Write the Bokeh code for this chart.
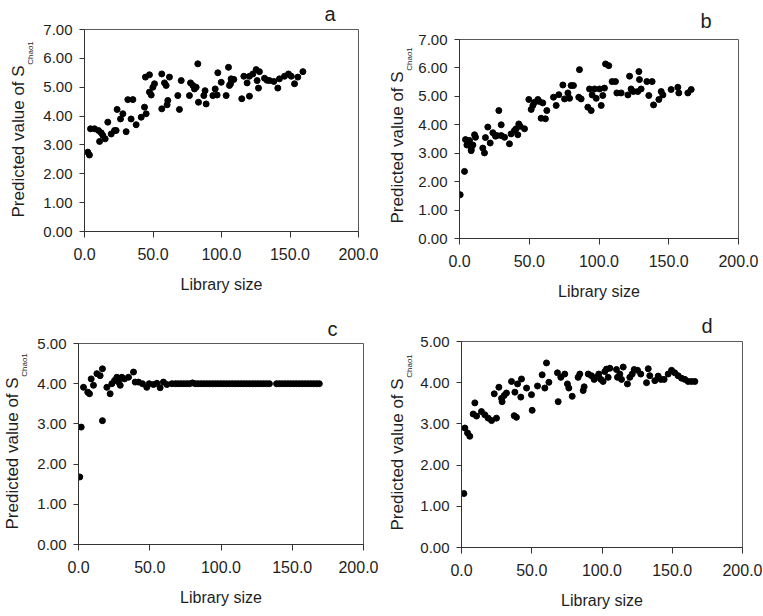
from bokeh.plotting import figure
from bokeh.layouts import column, row
from bokeh.models import FixedTicker, PrintfTickFormatter, Range1d, Title, LinearAxis
from bokeh.embed import file_html
from bokeh.resources import INLINE

# ---------------- data ----------------
x_ticks = [0, 50, 100, 150, 200]
y_ticks_ab = [0, 1, 2, 3, 4, 5, 6, 7]
y_ticks_cd = [0, 1, 2, 3, 4, 5]

a_x = [2.4, 3.6, 4.4, 7.3, 10.2, 12.2, 11.0, 13.4, 15.1, 17.0, 19.5, 21.9, 23.1, 23.8, 26.3,
       28.0, 30.4, 31.6, 35.3, 34.0, 37.7, 41.4, 43.8, 44.5, 45.0, 47.4, 47.4, 48.7, 49.9, 51.1,
       56.4, 56.4, 58.4, 60.3, 60.8, 62.0, 59.6, 69.3, 68.1, 70.6, 76.6, 77.4, 79.1, 80.3, 81.5,
       82.7, 83.2, 88.0, 87.1, 88.8, 93.7, 95.4, 96.8, 97.3, 99.8, 103.4, 105.1, 106.6, 107.0,
       109.0, 105.8, 114.8, 116.3, 118.7, 120.4, 120.4, 122.9, 125.3, 126.0, 127.0, 127.7, 131.4,
       133.2, 135.0, 138.2, 141.1, 142.3, 146.0, 148.9, 150.9, 153.3, 155.7, 159.4]
a_y = [2.75, 2.65, 3.56, 3.56, 3.50, 3.42, 3.12, 3.33, 3.21, 3.79, 3.38, 3.50, 3.50, 4.23, 3.90,
       4.08, 3.46, 4.57, 4.57, 3.90, 3.70, 3.96, 4.31, 5.35, 4.08, 5.43, 4.83, 4.73, 5.00, 5.12,
       5.46, 4.25, 5.15, 4.39, 4.54, 5.35, 5.06, 4.23, 4.71, 5.23, 4.71, 5.15, 5.06, 4.94, 5.00,
       5.81, 4.48, 4.88, 4.71, 4.42, 4.71, 4.94, 4.73, 5.50, 5.17, 4.71, 5.69, 5.12, 5.29,
       5.27, 5.06, 4.60, 5.38, 5.15, 4.69, 5.38, 5.46, 5.61, 5.23, 4.97, 5.54, 5.31,
       5.24, 5.23, 5.20, 4.97, 5.29, 5.38, 5.46, 5.38, 5.12, 5.35, 5.54]

b_x = [0.5, 3.6, 4.3, 5.3, 8.4, 9.6, 10.8, 11.5, 7.2, 8.4, 16.7, 17.9, 18.6, 20.3, 22.0, 23.9,
       25.8, 28.2, 29.9, 26.8, 32.3, 29.9, 35.8, 37.0, 39.4, 40.6, 42.5, 43.5, 41.8, 46.6, 49.7,
       51.4, 52.6, 53.8, 56.2, 57.3, 58.5, 59.7, 61.6, 62.6, 67.4, 69.3, 71.2, 74.1, 75.3, 77.7,
       80.0, 81.7, 78.9, 86.0, 85.5, 87.2, 92.0, 94.4, 93.2, 95.1, 96.8, 98.0, 100.4, 101.6,
       102.7, 103.9, 104.7, 107.0, 109.4, 111.8, 112.8, 115.9, 120.7, 121.9, 123.0, 124.7, 128.6,
       129.0, 127.8, 130.2, 135.7, 134.3, 138.1, 139.1, 142.9, 144.6, 145.8, 151.7, 156.5, 157.2,
       163.7, 166.1]
b_y = [1.54, 2.36, 3.48, 3.29, 3.15, 3.29, 3.65, 3.56, 3.45, 3.09, 3.18, 3.01, 3.55, 3.92, 3.36,
       3.72, 3.60, 4.50, 4.00, 3.62, 3.56, 3.62, 3.33, 3.68, 3.80, 3.86, 4.03, 3.95, 3.65, 3.86,
       4.89, 4.54, 4.68, 4.79, 4.89, 4.82, 4.23, 4.77, 4.21, 4.50, 4.97, 4.68, 5.06, 5.40, 4.91,
       5.12, 5.38, 5.38, 4.93, 5.94, 4.97, 4.91, 4.62, 4.50, 5.26, 5.05, 5.26, 4.93, 5.26, 4.68,
       5.03, 5.29, 6.14, 6.08, 5.52, 5.52, 5.12, 5.12, 5.05, 5.71, 5.26, 5.17, 5.87,
       5.59, 5.17, 5.26, 5.03, 5.52, 5.52, 4.70, 4.89, 5.17, 5.05, 5.24, 5.32, 5.12,
       5.12, 5.24]

c_x = [0.9, 1.9, 3.5, 6.5, 7.7, 8.9, 10.5, 12.9, 15.2, 16.8, 16.8, 19.9, 22.2, 23.4, 25.3, 26.9,
       28.1, 29.3, 30.4, 32.3, 35.1, 38.6, 39.8, 42.1, 44.9, 47.9, 49.6, 52.6, 55.0, 57.3, 59.6,
       62.0, 65.5, 68.0, 70.0, 72.0, 74.0, 76.0, 78.0, 80.0, 82.0, 84.0, 86.0, 88.0, 90.0, 92.0,
       94.0, 96.0, 98.0, 100.0, 102.0, 104.0, 106.0, 108.0, 110.0, 112.0, 114.0, 116.0, 118.0,
       120.0, 122.0, 124.0, 126.0, 128.0, 130.0, 132.0, 134.0, 139.0, 141.0, 143.0, 145.0,
       147.0, 149.0, 151.0, 153.0, 155.0, 157.0, 159.0, 161.0, 163.0, 165.0, 167.0, 169.0]
c_y = [1.68, 2.92, 3.91, 3.79, 3.75, 4.12, 3.96, 4.25, 4.20, 4.37, 3.08, 3.91, 3.75, 4.00, 4.08,
       4.16, 4.04, 3.96, 4.16, 4.12, 4.16, 4.29, 4.04, 4.04, 4.00, 3.91, 4.00, 3.98, 4.01, 3.90,
       4.04, 3.98, 4.00, 4.00, 4.00, 4.00, 4.00, 4.00, 4.00, 4.02, 4.00, 4.00, 4.00, 4.00, 4.00,
       4.00, 4.00, 4.00, 4.00, 4.00, 4.00, 4.00, 4.00, 4.00, 4.00, 4.00, 4.00, 4.00, 4.00,
       4.00, 4.00, 4.00, 4.00, 4.00, 4.00, 4.00, 4.00, 4.00, 4.00, 4.00, 4.00,
       4.00, 4.00, 4.00, 4.00, 4.00, 4.00, 4.00, 4.00, 4.00, 4.00, 4.00, 4.00]

d_x = [1.7, 2.4, 4.3, 5.9, 9.5, 8.3, 10.7, 14.2, 16.6, 19.0, 21.4, 24.9, 23.3, 26.6, 28.5, 30.4,
       32.0, 28.9, 35.6, 38.0, 37.5, 39.1, 39.9, 42.2, 42.7, 46.3, 49.8, 50.3, 54.1, 57.4, 60.5,
       59.3, 62.2, 68.3, 68.8, 70.7, 73.5, 75.4, 76.4, 78.8, 83.0, 84.2, 87.3, 86.6, 90.2, 92.5,
       94.4, 96.1, 97.7, 99.2, 100.8, 102.0, 103.2, 104.4, 105.6, 110.3, 111.0, 112.7, 113.9,
       115.1, 118.1, 119.8, 121.5, 122.9, 125.3, 127.6, 131.7, 132.9, 134.0, 137.6, 140.0, 141.9,
       144.2, 147.1, 149.5, 151.8, 154.2, 156.6, 159.0, 161.3, 163.7, 166.1]
d_y = [1.31, 2.90, 2.78, 2.70, 3.51, 3.24, 3.19, 3.30, 3.22, 3.14, 3.08, 3.14, 3.73, 3.89, 3.62,
       3.69, 3.75, 3.54, 4.03, 3.77, 3.20, 3.16, 3.97, 3.65, 4.09, 3.87, 3.71, 3.33, 3.92, 4.19,
       4.48, 3.87, 4.01, 4.24, 3.54, 4.13, 4.21, 3.97, 3.87, 3.67, 4.13, 4.21, 3.90, 3.81, 4.21,
       4.17, 4.08, 4.13, 4.21, 4.08, 4.03, 4.27, 4.33, 4.13, 4.35, 4.32, 4.13, 4.21, 4.08,
       4.38, 3.97, 4.13, 4.21, 4.32, 4.30, 4.21, 4.00, 4.34, 4.17, 4.05, 4.16, 4.08,
       4.08, 4.21, 4.30, 4.24, 4.17, 4.11, 4.08, 4.03, 4.03, 4.03]

x_label = "Library size"
y_label_main = "Predicted value of S"
y_label_sub = "Chao1"

FONT = "Liberation Sans"
TXT = "#1e1e1e"
MAIN_LEN = 152.0   # px length of the rotated main y title at 17px
SUB_LEN = 23.0     # px length of the subscript at 8px


def make_panel(xs, ys, ymax, yticks, letter, w, h, bl, br, bt, bb, margin,
               main_off, sub_stand, let_off, let_stand):
    p = figure(width=w, height=h, output_backend="svg", toolbar_location=None, title=None,
               x_range=Range1d(0, 200), y_range=Range1d(0, ymax),
               min_border_left=bl, min_border_right=br, min_border_top=bt,
               min_border_bottom=bb, margin=margin)
    p.grid.visible = False
    p.outline_line_color = "#5a5a5a"
    p.outline_line_width = 1
    p.background_fill_color = "white"
    p.border_fill_color = "white"

    p.scatter(xs, ys, size=6, color="black")

    xa = p.xaxis[0]
    xa.ticker = FixedTicker(ticks=x_ticks)
    xa.formatter = PrintfTickFormatter(format="%.1f")
    xa.major_label_text_font = FONT
    xa.major_label_text_font_size = "16px"
    xa.major_label_text_color = TXT
    xa.major_tick_out = 6
    xa.major_tick_in = 0
    xa.minor_tick_out = 0
    xa.minor_tick_in = 0
    xa.major_label_standoff = 10
    xa.axis_label = x_label
    xa.axis_label_text_font = FONT
    xa.axis_label_text_font_size = "16px"
    xa.axis_label_text_font_style = "normal"
    xa.axis_label_text_color = TXT
    xa.axis_label_standoff = 13
    xa.axis_line_color = "#333333"
    xa.major_tick_line_color = "#333333"

    ya = p.yaxis[0]
    ya.ticker = FixedTicker(ticks=yticks)
    ya.formatter = PrintfTickFormatter(format="%.2f")
    ya.major_label_text_font = FONT
    ya.major_label_text_font_size = "15px"
    ya.major_label_text_color = TXT
    ya.major_tick_out = 5
    ya.major_tick_in = 0
    ya.minor_tick_out = 0
    ya.minor_tick_in = 0
    ya.major_label_standoff = 7
    ya.axis_line_color = "#333333"
    ya.major_tick_line_color = "#333333"

    # subscript "Chao1": a bare extra axis whose single tick label is the subscript
    frame_h = h - bt - bb
    y_sub = (main_off + MAIN_LEN + 1 + SUB_LEN / 2) / frame_h * ymax
    sub_axis = LinearAxis(ticker=FixedTicker(ticks=[y_sub], minor_ticks=[]),
                          formatter=PrintfTickFormatter(format=y_label_sub),
                          major_label_orientation="vertical",
                          major_label_standoff=sub_stand,
                          major_label_text_font=FONT,
                          major_label_text_font_size="8px",
                          major_label_text_color=TXT,
                          major_tick_out=0, major_tick_in=0,
                          minor_tick_out=0, minor_tick_in=0,
                          axis_line_color=None, major_tick_line_color=None)
    p.add_layout(sub_axis, "left")

    # main y title
    p.add_layout(Title(text=y_label_main, align="left", offset=main_off,
                       vertical_align="bottom", standoff=-10,
                       text_font=FONT, text_font_size="17px",
                       text_font_style="normal", text_color=TXT), "left")

    # panel letter
    p.add_layout(Title(text=letter, align="right", offset=let_off,
                       vertical_align="top", standoff=let_stand,
                       text_font=FONT, text_font_size="20px",
                       text_font_style="normal", text_color=TXT), "above")
    return p


pa = make_panel(a_x, a_y, 7, y_ticks_ab, "a", 380, 304, 84, 22, 36, 66, (-7, 0, 0, 0),
                14, 6, 23, 6)
pb = make_panel(b_x, b_y, 7, y_ticks_ab, "b", 382, 301, 79, 24, 36, 66, (3, 0, 0, 0),
                15, 2, 27, 11)
pc = make_panel(c_x, c_y, 5, y_ticks_cd, "c", 378, 304, 78, 15, 37, 66, (2, 0, 0, 0),
                15, 6, 26, 4)
pd = make_panel(d_x, d_y, 5, y_ticks_cd, "d", 384, 309, 83, 20, 37, 66, (0, 0, 0, 0),
                17, 4, 30, 6)

layout = column(row(pa, pb), row(pc, pd))
open("out.html", "w").write(file_html(layout, INLINE))
